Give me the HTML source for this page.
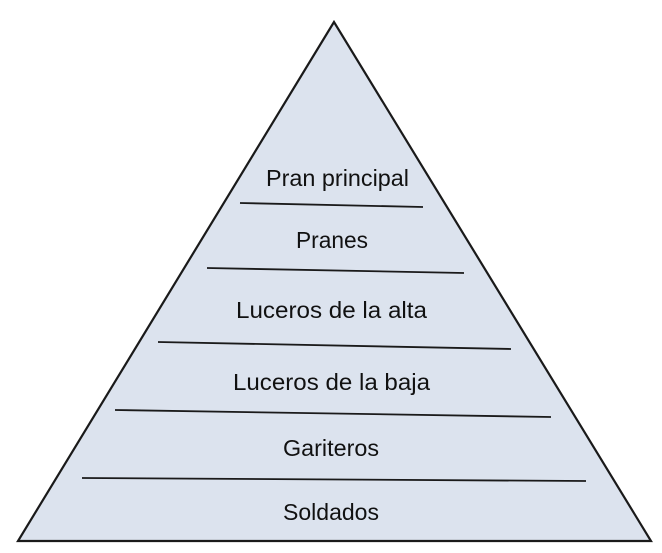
<!DOCTYPE html>
<html><head><style>html,body{margin:0;padding:0;background:#fff;}svg{display:block}</style></head>
<body>
<svg width="662" height="553" viewBox="0 0 662 553" xmlns="http://www.w3.org/2000/svg">
<polygon points="334,22 18,541 651,541" fill="#dce3ee" stroke="#1a1a1a" stroke-width="2.2" stroke-linejoin="miter"/>
<g stroke="#1a1a1a" stroke-width="1.8">
<line x1="240" y1="203" x2="423" y2="207"/>
<line x1="207" y1="268" x2="464" y2="273"/>
<line x1="158" y1="342" x2="511" y2="349"/>
<line x1="115" y1="410" x2="551" y2="417"/>
<line x1="82" y1="478" x2="586" y2="481"/>
</g>
<g font-family="Liberation Sans, Arial, sans-serif" font-size="23" fill="#111" lengthAdjust="spacingAndGlyphs">
<text x="266" y="186" textLength="143" lengthAdjust="spacingAndGlyphs">Pran principal</text>
<text x="296" y="248" textLength="72" lengthAdjust="spacingAndGlyphs">Pranes</text>
<text x="236" y="318" textLength="191" lengthAdjust="spacingAndGlyphs">Luceros  de la alta</text>
<text x="233" y="390" textLength="197" lengthAdjust="spacingAndGlyphs">Luceros  de la baja</text>
<text x="283" y="456" textLength="96" lengthAdjust="spacingAndGlyphs">Gariteros</text>
<text x="283" y="520" textLength="96" lengthAdjust="spacingAndGlyphs">Soldados</text>
</g>
</svg>
</body></html>
